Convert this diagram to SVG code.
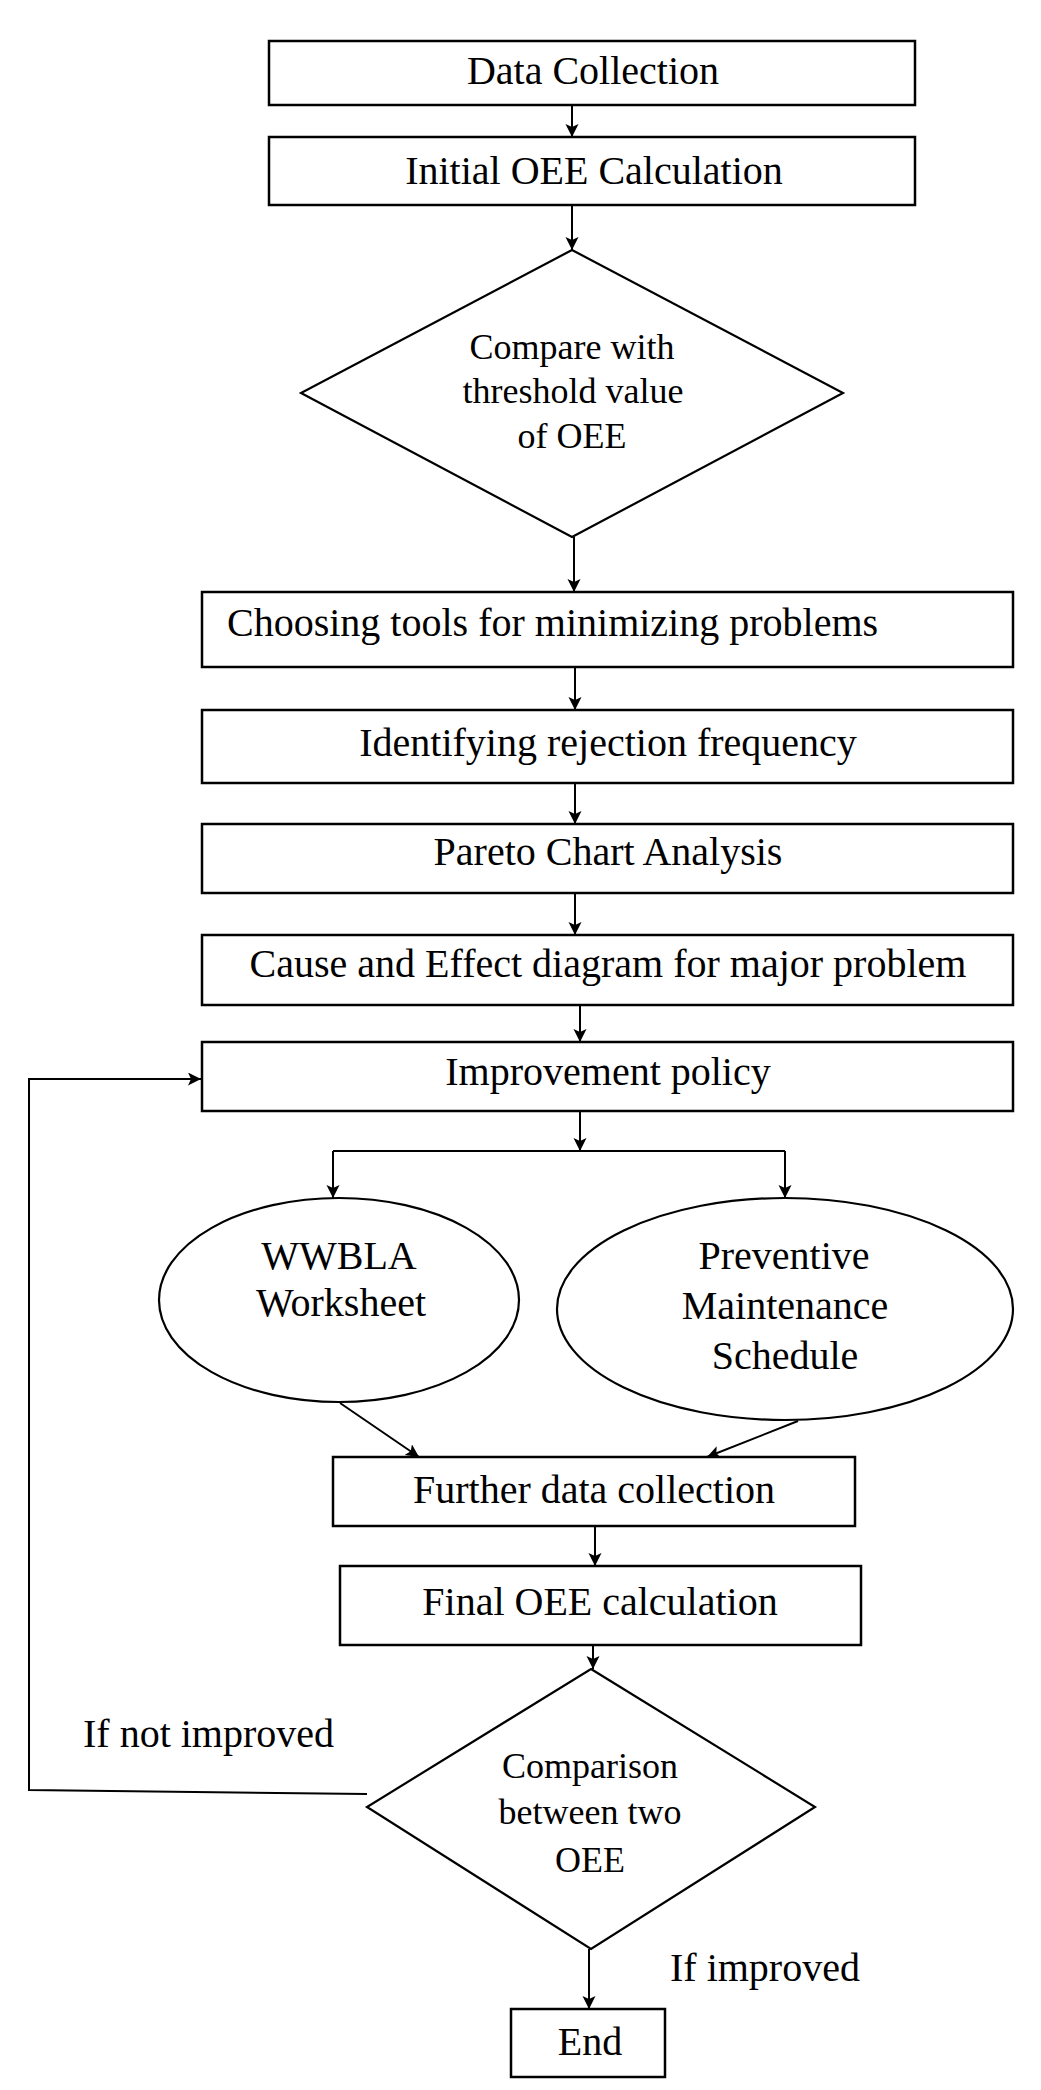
<svg xmlns="http://www.w3.org/2000/svg" width="1041" height="2090" viewBox="0 0 1041 2090">
<style>
.box{fill:#fff;stroke:#000;stroke-width:2.5}
.shape{fill:#fff;stroke:#000;stroke-width:2.2}
.t{font-family:"Liberation Serif","Times New Roman",serif;font-size:40px;fill:#000;text-anchor:middle}
.ts{font-family:"Liberation Serif","Times New Roman",serif;font-size:36px;fill:#000;text-anchor:middle}
.tl{font-family:"Liberation Serif","Times New Roman",serif;font-size:40px;fill:#000;text-anchor:start}
.c{fill:none;stroke:#000;stroke-width:2}
</style>
<defs>
<marker id="ah" markerUnits="userSpaceOnUse" markerWidth="14" markerHeight="14" refX="13" refY="6.5" orient="auto">
<path d="M0,0 L13,6.5 L0,13 L3,6.5 z" fill="#000"/>
</marker>
</defs>
<rect width="1041" height="2090" fill="#fff"/>
<g id="connectors">
<line class="c" x1="572" y1="105" x2="572" y2="137" marker-end="url(#ah)"/>
<line class="c" x1="572" y1="205" x2="572" y2="250" marker-end="url(#ah)"/>
<line class="c" x1="574" y1="537" x2="574" y2="592" marker-end="url(#ah)"/>
<line class="c" x1="575" y1="667" x2="575" y2="710" marker-end="url(#ah)"/>
<line class="c" x1="575" y1="783" x2="575" y2="824" marker-end="url(#ah)"/>
<line class="c" x1="575" y1="893" x2="575" y2="935" marker-end="url(#ah)"/>
<line class="c" x1="580" y1="1005" x2="580" y2="1042" marker-end="url(#ah)"/>
<line class="c" x1="580" y1="1111" x2="580" y2="1151" marker-end="url(#ah)"/>
<line class="c" x1="333" y1="1151" x2="785" y2="1151"/>
<line class="c" x1="333" y1="1151" x2="333" y2="1198" marker-end="url(#ah)"/>
<line class="c" x1="785" y1="1151" x2="785" y2="1198" marker-end="url(#ah)"/>
<line class="c" x1="340" y1="1403" x2="419" y2="1457" marker-end="url(#ah)"/>
<line class="c" x1="798" y1="1421" x2="707" y2="1457" marker-end="url(#ah)"/>
<line class="c" x1="595" y1="1526" x2="595" y2="1566" marker-end="url(#ah)"/>
<line class="c" x1="593" y1="1645" x2="593" y2="1669" marker-end="url(#ah)"/>
<line class="c" x1="589" y1="1949" x2="589" y2="2009" marker-end="url(#ah)"/>
<polyline class="c" points="367,1794 29,1790 29,1079 201,1079" marker-end="url(#ah)"/>
</g>
<g id="data-collection">
<rect class="box" x="269" y="41" width="646" height="64"/>
<text class="t" x="593" y="84">Data Collection</text>
</g>
<g id="initial-oee">
<rect class="box" x="269" y="137" width="646" height="68"/>
<text class="t" x="594" y="184">Initial OEE Calculation</text>
</g>
<g id="compare-threshold">
<polygon class="shape" points="572,250 843,393 572,537 301,393"/>
<text class="ts" x="572" y="359">Compare with</text>
<text class="ts" x="573" y="403">threshold value</text>
<text class="ts" x="572" y="448">of OEE</text>
</g>
<g id="choosing-tools">
<rect class="box" x="202" y="592" width="811" height="75"/>
<text class="tl" x="227" y="636">Choosing tools for minimizing problems</text>
</g>
<g id="identifying-rejection">
<rect class="box" x="202" y="710" width="811" height="73"/>
<text class="t" x="608" y="756">Identifying rejection frequency</text>
</g>
<g id="pareto">
<rect class="box" x="202" y="824" width="811" height="69"/>
<text class="t" x="608" y="865">Pareto Chart Analysis</text>
</g>
<g id="cause-effect">
<rect class="box" x="202" y="935" width="811" height="70"/>
<text class="t" x="608" y="977">Cause and Effect diagram for major problem</text>
</g>
<g id="improvement-policy">
<rect class="box" x="202" y="1042" width="811" height="69"/>
<text class="t" x="608" y="1085">Improvement policy</text>
</g>
<g id="wwbla">
<ellipse class="shape" cx="339" cy="1300" rx="180" ry="102"/>
<text class="t" x="339" y="1269">WWBLA</text>
<text class="t" x="341" y="1316">Worksheet</text>
</g>
<g id="preventive-maintenance">
<ellipse class="shape" cx="785" cy="1309" rx="228" ry="111"/>
<text class="t" x="784" y="1269">Preventive</text>
<text class="t" x="785" y="1319">Maintenance</text>
<text class="t" x="785" y="1369">Schedule</text>
</g>
<g id="further-data">
<rect class="box" x="333" y="1457" width="522" height="69"/>
<text class="t" x="594" y="1503">Further data collection</text>
</g>
<g id="final-oee">
<rect class="box" x="340" y="1566" width="521" height="79"/>
<text class="t" x="600" y="1615">Final OEE calculation</text>
</g>
<g id="comparison">
<polygon class="shape" points="591,1669 815,1807 591,1949 367,1807"/>
<text class="ts" x="590" y="1778">Comparison</text>
<text class="ts" x="590" y="1824">between two</text>
<text class="ts" x="590" y="1872">OEE</text>
</g>
<g id="end">
<rect class="box" x="511" y="2009" width="154" height="68"/>
<text class="t" x="590" y="2055">End</text>
</g>
<g id="labels">
<text class="tl" x="83" y="1747">If not improved</text>
<text class="tl" x="670" y="1981">If improved</text>
</g>
</svg>
